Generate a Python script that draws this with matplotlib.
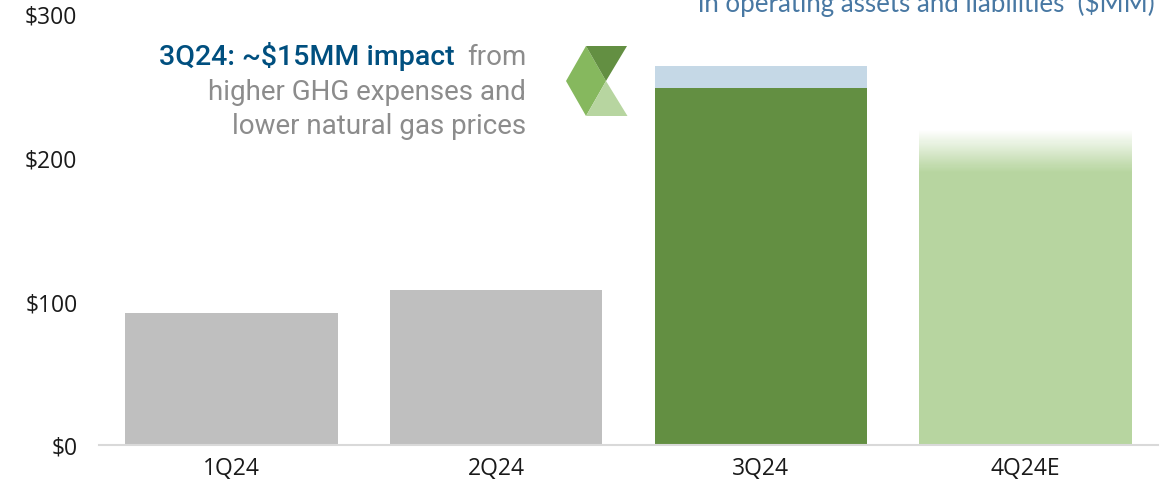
import numpy as np
import matplotlib
matplotlib.use("Agg")
import matplotlib.pyplot as plt
from matplotlib.patches import Polygon
from matplotlib.colors import to_rgb

quarters = ["1Q24", "2Q24", "3Q24", "4Q24E"]
base_values = [92, 108, 248.5, 0]
impact_values = [0, 0, 15, 0]
estimate_solid = 190
estimate_top = 219
y_ticks = [0, 100, 200, 300]
y_labels = ["$0", "$100", "$200", "$300"]
base_colors = ["#BFBFBF", "#BFBFBF", "#638F42", "#B7D5A0"]
IMPACT_COLOR = "#C5D8E6"
EST_COLOR = "#B7D5A0"

W, H = 1170, 489
fig = plt.figure(figsize=(W / 100, H / 100), dpi=100)
plt.rcParams["font.family"] = ["Roboto", "DejaVu Sans"]

L, R, T, B = 99, 1158, 14.5, 446
ax = fig.add_axes([L / W, 1 - B / H, (R - L) / W, (B - T) / H])
ax.set_xlim(-0.5, 3.5)
ax.set_ylim(0, 300)
x = np.arange(len(quarters))
bw = 212.5 / 264.75

ax.bar(x, base_values, bw, color=base_colors, zorder=2)
ax.bar(x, impact_values, bw, bottom=base_values, color=IMPACT_COLOR, zorder=2)
ax.bar(x[3], estimate_solid, bw, color=EST_COLOR, zorder=2)

# fade of the estimate bar, from its solid part to white at its top
n = 40
edges = np.linspace(estimate_solid, estimate_top, n + 1)
c0, c1 = np.array(to_rgb(EST_COLOR)), np.ones(3)
for i in range(n):
    t = (i + 0.5) / n
    ax.bar(x[3], edges[i + 1] - edges[i], bw, bottom=edges[i],
           color=tuple(c0 + (c1 - c0) * t), lw=0, antialiased=False, zorder=2)

for s in ["top", "left", "right"]:
    ax.spines[s].set_visible(False)
ax.spines["bottom"].set_color("#D9D9D9")
ax.spines["bottom"].set_linewidth(1.5)
ax.spines["bottom"].set_zorder(3)
ax.set_xticks(x, quarters)
ax.set_yticks(y_ticks, y_labels)
ax.tick_params(length=0, labelsize=16.5, colors="#1A1A1A", labelfontfamily="Open Sans")
ax.tick_params(axis="x", pad=8)
ax.tick_params(axis="y", pad=15.5)

def px(xp, yp):
    return xp / W, 1 - yp / H

tf = fig.transFigure
fs = 20
fig.text(*px(1155, 12), "in operating assets and liabilities  ($MM)", ha="right", va="baseline",
         fontsize=18.6, color="#4878A3", family="Lato")
fig.text(*px(455, 65), "3Q24: ~$15MM impact", ha="right", va="baseline",
         fontsize=20.5, color="#004F7F", fontweight="medium")
fig.text(*px(526, 65), "from", ha="right", va="baseline", fontsize=fs, color="#8C8C8C")
fig.text(*px(526, 100), "higher GHG expenses and", ha="right", va="baseline", fontsize=fs, color="#8C8C8C")
fig.text(*px(526, 134), "lower natural gas prices", ha="right", va="baseline", fontsize=fs, color="#8C8C8C")

# logo (decorative)
logo = [
    ([(566, 82), (586, 47), (606, 82), (586, 117)], "#86B85E"),
    ([(586, 47), (627, 47), (606, 82)], "#638F42"),
    ([(606, 82), (627.5, 117), (586, 117)], "#B7D5A0"),
]
for pts, c in logo:
    fig.add_artist(Polygon([px(*p) for p in pts], closed=True, transform=tf, fc=c, ec="none"))

fig.savefig("out.png", dpi=100)
